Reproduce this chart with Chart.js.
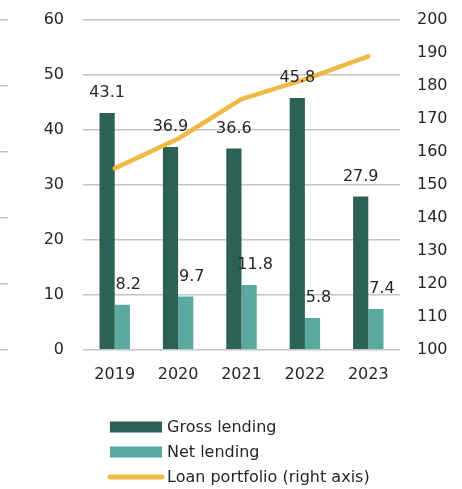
<!DOCTYPE html>
<html>
<head>
<meta charset="utf-8">
<script src="https://cdn.jsdelivr.net/npm/chart.js@4.4.1/dist/chart.umd.min.js"></script>
<style>
  html, body { margin: 0; padding: 0; background: #ffffff; }
  #c { display: block; }
</style>
</head>
<body>
<canvas id="c" width="462" height="489"></canvas>
<script>
// Lending volumes (left axis) and loan portfolio (right axis), 2019-2023
const years = ['2019', '2020', '2021', '2022', '2023'];
const grossLending = [43.1, 36.9, 36.6, 45.8, 27.9];
const netLending = [8.2, 9.7, 11.8, 5.8, 7.4];
const loanPortfolio = [155, 164, 176, 182, 189];
const seriesNames = ['Gross lending', 'Net lending', 'Loan portfolio (right axis)'];

const FONT = 'DejaVu Sans';
const TEXT = '#262626';
const GRID = '#c3c3cb';
const COLORS = { gross: '#2c6154', net: '#59a9a1', line: '#f0b944' };

// Value labels above each bar, taken from the bar's own value
const barValueLabels = {
  id: 'barValueLabels',
  afterDatasetsDraw(chart) {
    const ctx = chart.ctx;
    ctx.save();
    ctx.font = '16px "' + FONT + '"';
    ctx.fillStyle = TEXT;
    ctx.textAlign = 'center';
    ctx.textBaseline = 'bottom';
    [0, 1].forEach(di => {
      const meta = chart.getDatasetMeta(di);
      const values = chart.data.datasets[di].data;
      const shift = di === 1 ? 6 : 0;
      meta.data.forEach((bar, i) => {
        ctx.fillText(values[i].toFixed(1), bar.x + shift, bar.y - 12);
      });
    });
    ctx.restore();
  }
};

// Legend stacked in a single column under the chart
const stackedLegend = {
  id: 'stackedLegend',
  afterDraw(chart) {
    const ctx = chart.ctx;
    const left = 110, swatchW = 52, textX = 167, top = 427, step = 25;
    ctx.save();
    ctx.font = '16px "' + FONT + '"';
    ctx.fillStyle = TEXT;
    ctx.textBaseline = 'middle';
    chart.data.datasets.forEach((ds, i) => {
      const y = top + i * step;
      if (ds.type === 'line') {
        ctx.strokeStyle = ds.borderColor;
        ctx.lineWidth = 5;
        ctx.lineCap = 'round';
        ctx.beginPath();
        ctx.moveTo(left, y);
        ctx.lineTo(left + swatchW, y);
        ctx.stroke();
      } else {
        ctx.fillStyle = ds.backgroundColor;
        ctx.fillRect(left, y - 5.5, swatchW, 11);
      }
      ctx.fillStyle = TEXT;
      ctx.fillText(ds.label, textX, y + 1);
    });
    ctx.restore();
  }
};

// Fixed axis widths; label overhang is handled by the layout padding instead
function fitSide(width) {
  return function (scale) {
    scale.width = width;
    scale.paddingTop = 0;
    scale.paddingBottom = 0;
  };
}

new Chart(document.getElementById('c'), {
  data: {
    labels: years,
    datasets: [
      {
        type: 'bar',
        label: seriesNames[0],
        data: grossLending,
        backgroundColor: COLORS.gross,
        yAxisID: 'y',
        order: 1,
        barPercentage: 1,
        categoryPercentage: 0.48
      },
      {
        type: 'bar',
        label: seriesNames[1],
        data: netLending,
        backgroundColor: COLORS.net,
        yAxisID: 'y',
        order: 1,
        barPercentage: 1,
        categoryPercentage: 0.48
      },
      {
        type: 'line',
        label: seriesNames[2],
        data: loanPortfolio,
        borderColor: COLORS.line,
        backgroundColor: COLORS.line,
        borderWidth: 4.5,
        borderCapStyle: 'round',
        borderJoinStyle: 'round',
        pointRadius: 0,
        tension: 0,
        yAxisID: 'y1',
        order: 0
      }
    ]
  },
  options: {
    responsive: false,
    animation: false,
    layout: { padding: { top: 20, right: 0, bottom: 98, left: 0 } },
    plugins: {
      legend: { display: false },
      tooltip: { enabled: false }
    },
    scales: {
      x: {
        grid: { display: false },
        border: { display: false },
        ticks: { color: TEXT, font: { family: FONT, size: 16 }, padding: 7 }
      },
      y: {
        position: 'left',
        weight: 0,
        min: 0,
        max: 60,
        ticks: { stepSize: 10, color: TEXT, font: { family: FONT, size: 16 }, padding: 19 },
        grid: { color: GRID, lineWidth: 1.5, drawTicks: false },
        border: { display: false },
        afterFit: fitSide(75)
      },
      yEdge: {
        position: 'left',
        weight: 10,
        min: 0,
        max: 5,
        ticks: { stepSize: 1, display: false },
        grid: { color: GRID, lineWidth: 1.5, drawOnChartArea: false, drawTicks: true, tickLength: 8 },
        border: { display: false },
        afterFit: fitSide(8)
      },
      y1: {
        position: 'right',
        min: 100,
        max: 200,
        ticks: { stepSize: 10, color: TEXT, font: { family: FONT, size: 16 }, padding: 17 },
        grid: { drawOnChartArea: false, drawTicks: false },
        border: { display: false },
        afterFit: fitSide(62)
      }
    }
  },
  plugins: [barValueLabels, stackedLegend]
});
</script>
</body>
</html>
